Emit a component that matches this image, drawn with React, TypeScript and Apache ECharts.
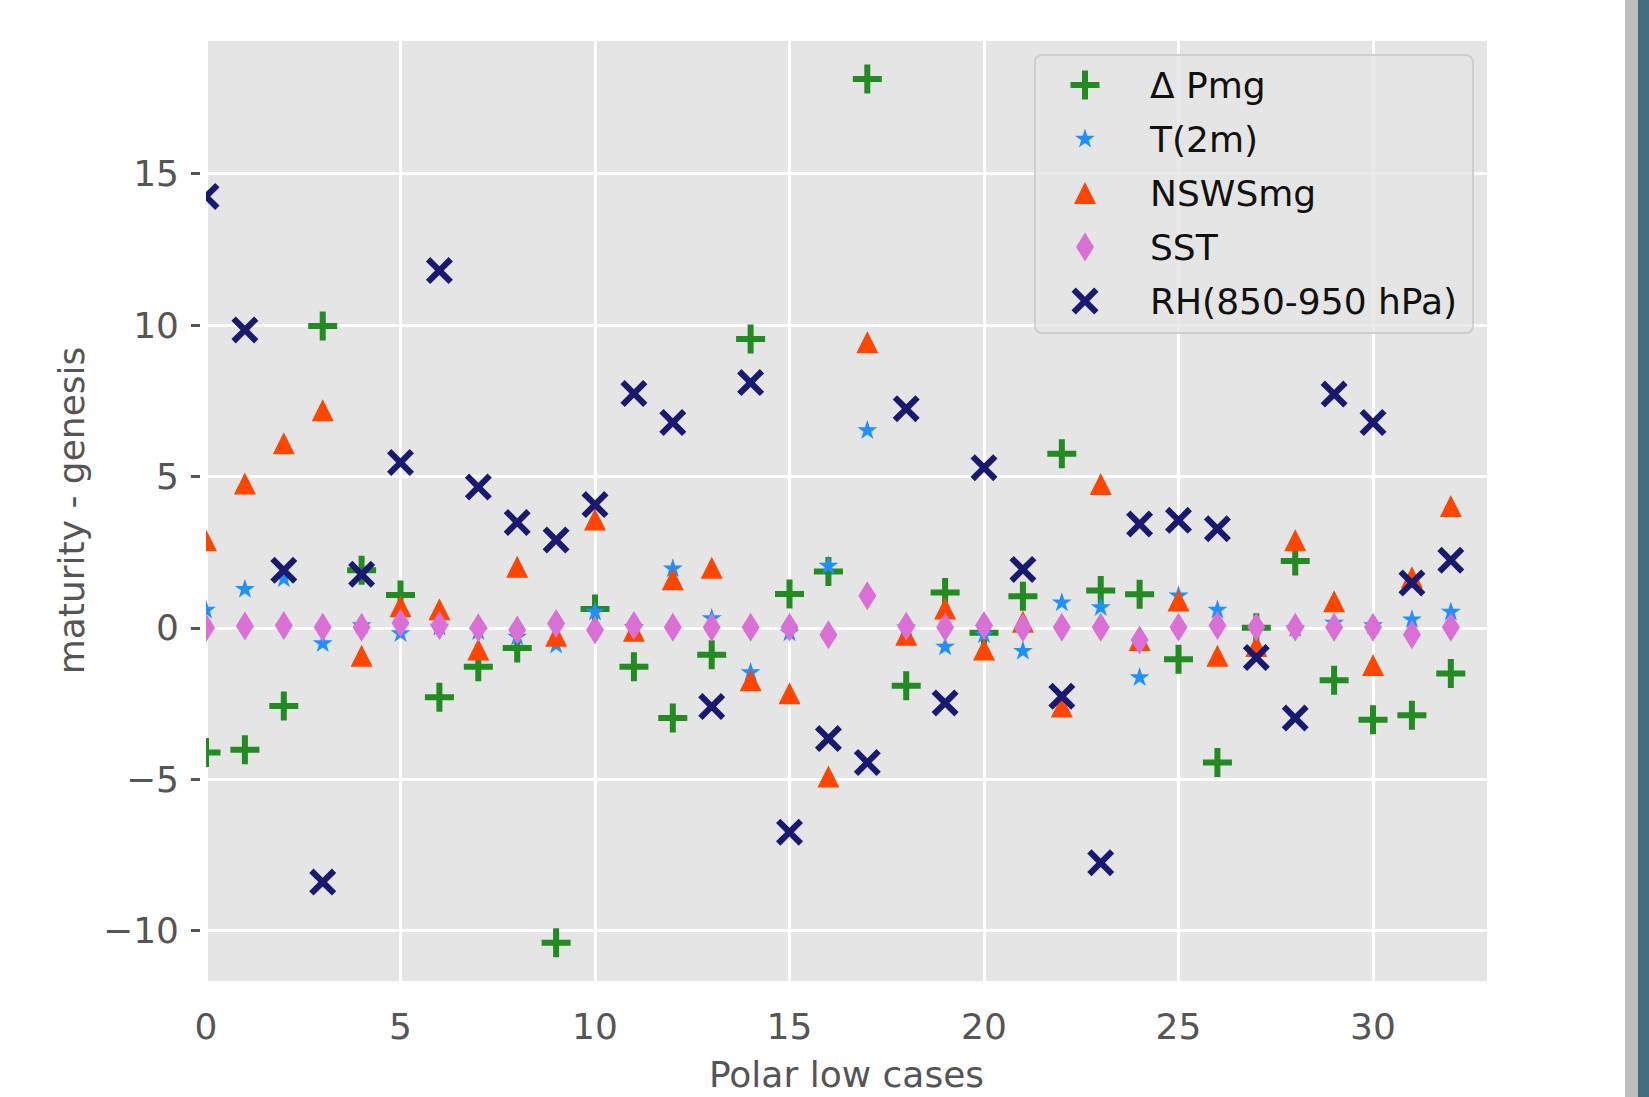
import React, { useEffect, useRef } from 'react';
import * as echarts from 'echarts';

// ---------- data ----------
const cases = [0, 1, 2, 3, 4, 5, 6, 7, 8, 9, 10, 11, 12, 13, 14, 15, 16, 17, 18, 19, 20, 21, 22, 23, 24, 25, 26, 27, 28, 29, 30, 31, 32];

const deltaPmg = [-4.12, -4.03, -2.58, 9.97, 1.9, 1.08, -2.29, -1.29, -0.67, -10.4, 0.62, -1.29, -2.98, -0.89, 9.54, 1.12, 1.86, 18.13, -1.91, 1.17, -0.16, 1.04, 5.75, 1.23, 1.11, -1.04, -4.45, 0.0, 2.21, -1.73, -3.04, -2.89, -1.51];

const t2m = [0.59, 1.27, 1.62, -0.52, 0.08, -0.19, 0.03, -0.12, -0.3, -0.57, 0.52, 0.02, 1.95, 0.31, -1.48, -0.16, 2.04, 6.52, 0.0, -0.63, -0.23, -0.77, 0.83, 0.67, -1.64, 1.06, 0.59, -0.95, -0.02, 0.16, 0.08, 0.27, 0.52];

const nswsMg = [2.89, 4.77, 6.1, 7.19, -0.92, 0.71, 0.61, -0.72, 2.02, -0.26, 3.58, -0.1, 1.6, 1.98, -1.73, -2.16, -4.91, 9.43, -0.23, 0.64, -0.72, 0.2, -2.6, 4.75, -0.4, 0.9, -0.92, -0.6, 2.89, 0.88, -1.23, 1.67, 4.02];

const sst = [0.0, 0.06, 0.08, 0.02, 0.02, 0.16, 0.08, 0.0, -0.07, 0.14, -0.07, 0.08, 0.02, 0.02, 0.02, 0.02, -0.23, 1.06, 0.05, 0.02, 0.08, 0.0, 0.02, 0.02, -0.4, 0.02, 0.08, 0.03, 0.02, 0.02, 0.02, -0.23, 0.02];

const rh = [14.25, 9.84, 1.9, -8.4, 1.77, 5.46, 11.8, 4.65, 3.48, 2.9, 4.07, 7.74, 6.78, -2.6, 8.1, -6.75, -3.66, -4.45, 7.24, -2.48, 5.29, 1.93, -2.26, -7.76, 3.43, 3.55, 3.27, -0.98, -2.98, 7.72, 6.78, 1.48, 2.23];

const xTicks = [0, 5, 10, 15, 20, 25, 30];
const yTicks = [-10, -5, 0, 5, 10, 15];

const seriesNames = ['\u0394 Pmg', 'T(2m)', 'NSWSmg', 'SST', 'RH(850-950 hPa)'];

// ---------- styling ----------
const PAD = 'M0 0L0.01 0M30 30L29.99 30';
const PLUS = `path://${PAD}M12 0.5H18V12H29.5V18H18V29.5H12V18H0.5V12H12Z`;
const STAR = `path://${PAD}M15 4.5L17.36 11.76L24.99 11.76L18.81 16.24L21.17 23.49L15 19.01L8.83 23.49L11.19 16.24L5.01 11.76L12.64 11.76Z`;
const TRI = `path://${PAD}M15 4L26 26L4 26Z`;
const DIAMOND = `path://${PAD}M15 0.5L24 15L15 29.5L6 15Z`;
const XMARK = `path://${PAD}M1.5 5.8L5.8 1.5L15 10.7L24.2 1.5L28.5 5.8L19.3 15L28.5 24.2L24.2 28.5L15 19.3L5.8 28.5L1.5 24.2L10.7 15Z`;

const symbols = [PLUS, STAR, TRI, DIAMOND, XMARK];
const colors = ['#228B22', '#1E90FF', '#FF4500', '#DA70D6', '#191970'];
const values = [deltaPmg, t2m, nswsMg, sst, rh];

const FONT = 'DejaVu Sans';
const TICK_COLOR = '#555555';

const fmt = (v: number) => (v < 0 ? '\u2212' + Math.abs(v) : String(v));
const fmtTick = (v: number) => (Math.abs(v % 5) < 1e-9 ? fmt(v) : '');

const GRID = { left: 206, right: 162, top: 39, bottom: 107 };
const X_MIN = 0;
const X_MAX = 32.93;
const Y_MIN = -11.7;
const Y_MAX = 19.45;

function buildOption() {
  return {
    animation: false,
    backgroundColor: '#ffffff',
    textStyle: { fontFamily: FONT },
    grid: {
      ...GRID,
      show: true,
      backgroundColor: '#E5E5E5',
      borderWidth: 0,
      containLabel: false,
    },
    xAxis: {
      type: 'value',
      min: X_MIN,
      max: X_MAX,
      interval: 5,
      position: 'bottom',
      offset: 6,
      name: 'Polar low cases',
      nameLocation: 'middle',
      nameGap: 68,
      nameTextStyle: { fontSize: 36, color: TICK_COLOR, fontFamily: FONT },
      axisLine: { show: false },
      axisTick: {
        show: true,
        length: 9,
        customValues: xTicks,
        lineStyle: { color: TICK_COLOR, width: 3 },
      },
      axisLabel: {
        customValues: xTicks,
        formatter: fmtTick,
        fontSize: 36,
        color: TICK_COLOR,
        fontFamily: FONT,
        margin: 20,
      },
      splitLine: { show: true, lineStyle: { color: '#ffffff', width: 3 } },
    },
    yAxis: [
      {
        type: 'value',
        min: Y_MIN,
        max: Y_MAX,
        position: 'left',
        axisLine: { show: false },
        axisTick: { show: false },
        axisLabel: { show: false },
        splitLine: { show: true, lineStyle: { color: '#ffffff', width: 3 } },
      },
      {
        type: 'value',
        min: Y_MIN,
        max: Y_MAX,
        position: 'left',
        offset: 6,
        z: 10,
        name: 'maturity - genesis',
        nameLocation: 'middle',
        nameGap: 111,
        nameTextStyle: { fontSize: 36, color: TICK_COLOR, fontFamily: FONT },
        axisLine: { show: false },
        axisTick: {
          show: true,
          length: 9,
          customValues: yTicks,
          lineStyle: { color: TICK_COLOR, width: 3 },
        },
        axisLabel: {
          customValues: yTicks,
          formatter: fmtTick,
          fontSize: 36,
          color: TICK_COLOR,
          fontFamily: FONT,
          margin: 21,
        },
        splitLine: { show: false },
      },
    ],
    legend: {
      orient: 'vertical',
      left: 1035,
      top: 55,
      itemWidth: 30,
      itemHeight: 30,
      itemGap: 0,
      selectedMode: false,
      symbolKeepAspect: true,
      padding: [3, 16, 5, 35],
      backgroundColor: 'rgba(229,229,229,0.8)',
      borderColor: 'rgba(200,200,200,0.8)',
      borderWidth: 2,
      borderRadius: 7,
      textStyle: {
        fontSize: 36,
        fontFamily: FONT,
        color: '#111111',
        lineHeight: 54,
        padding: [0, 0, 0, 45],
      },
      data: seriesNames.map((n, i) => ({ name: n, icon: symbols[i] })),
      z: 8,
    },
    graphic: [
      {
        type: 'rect',
        z: 5,
        silent: true,
        shape: { x: 120, y: GRID.top, width: GRID.left - 120, height: 1097 - GRID.top - GRID.bottom },
        style: { fill: '#ffffff' },
      },
      {
        type: 'rect',
        z: 20,
        silent: true,
        shape: { x: 1625, y: 0, width: 13, height: 1097 },
        style: { fill: '#bebebe' },
      },
      {
        type: 'rect',
        z: 20,
        silent: true,
        shape: { x: 1638, y: 0, width: 11, height: 1097 },
        style: { fill: '#436e80' },
      },
    ],
    series: seriesNames.map((n, i) => ({
      name: n,
      type: 'scatter',
      xAxisIndex: 0,
      yAxisIndex: 0,
      symbol: symbols[i],
      symbolSize: 30,
      symbolKeepAspect: true,
      itemStyle: { color: colors[i], opacity: 1 },
      emphasis: { disabled: true },
      data: cases.map((c, k) => [c, values[i][k]]),
      z: 2,
    })),
  };
}

export default function App() {
  const ref = useRef<HTMLDivElement>(null);
  useEffect(() => {
    if (!ref.current) return;
    const chart = echarts.init(ref.current, null, { renderer: 'svg' });
    chart.setOption(buildOption() as any);
    return () => chart.dispose();
  }, []);
  return (
    <div
      ref={ref}
      style={{ position: 'absolute', left: 0, top: 0, width: 1649, height: 1097, background: '#ffffff' }}
    />
  );
}
